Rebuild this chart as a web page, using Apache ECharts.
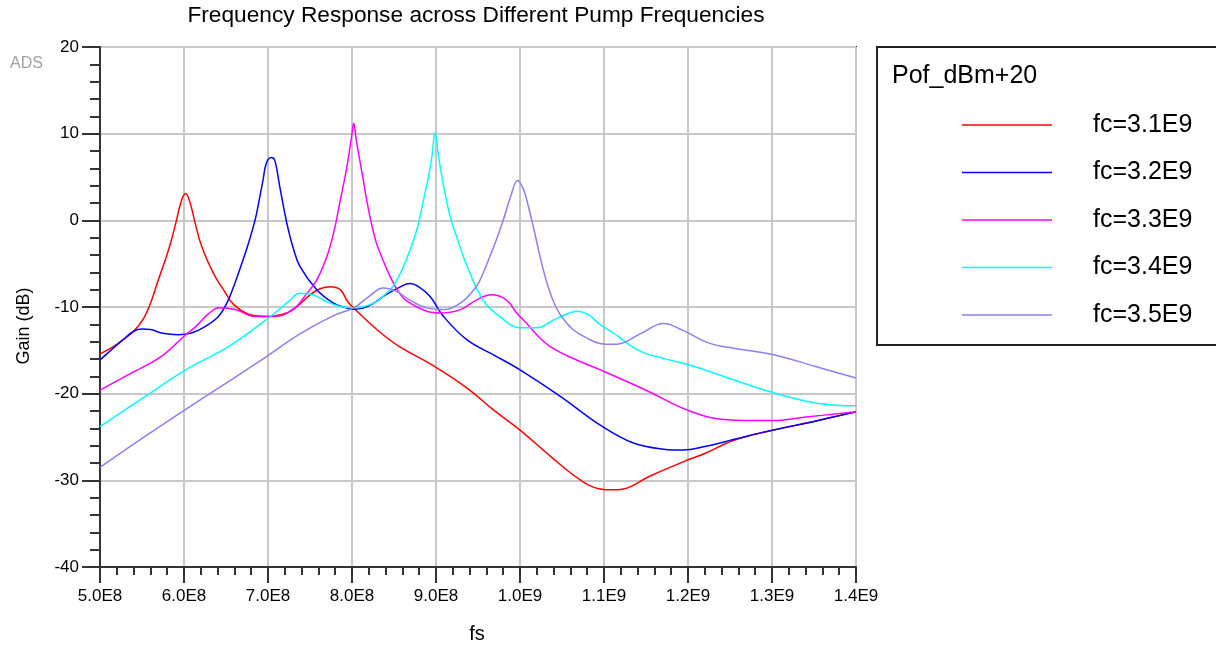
<!DOCTYPE html>
<html><head><meta charset="utf-8">
<script src="https://cdn.jsdelivr.net/npm/echarts@6/dist/echarts.min.js"></script>
<style>html,body{margin:0;padding:0;background:#fff}#c{width:1216px;height:647px}</style>
</head><body><div id="c"></div>
<script>
// ---- data (fs in Hz, gain in dB) ----
const seriesNames = ['fc=3.1E9', 'fc=3.2E9', 'fc=3.3E9', 'fc=3.4E9', 'fc=3.5E9'];
const legendTitle = 'Pof_dBm+20';
const chartTitle = 'Frequency Response across Different Pump Frequencies';
const xName = 'fs';
const yName = 'Gain (dB)';

const fs31 = [5.00e8,5.20e8,5.40e8,5.52e8,5.60e8,5.69e8,5.79e8,5.85e8,5.91e8,5.97e8,6.02e8,6.07e8,6.13e8,6.19e8,6.25e8,6.31e8,6.39e8,6.47e8,6.59e8,6.79e8,7.00e8,7.15e8,7.30e8,7.50e8,7.62e8,7.74e8,7.86e8,7.95e8,8.02e8,8.17e8,8.37e8,8.57e8,8.99e8,9.37e8,9.68e8,10.0e8,10.36e8,10.71e8,10.95e8,11.10e8,11.23e8,11.55e8,12.01e8,12.20e8,12.54e8,12.97e8,13.5e8,14.0e8];
const gain31 = [-15.4,-14.3,-12.8,-11.3,-9.6,-7.0,-4.2,-2.3,0.0,2.3,3.1,2.1,-0.2,-2.4,-4.0,-5.3,-6.8,-8.0,-9.7,-10.9,-11.1,-10.9,-10.3,-8.6,-7.9,-7.65,-8.0,-9.4,-10.1,-11.5,-13.2,-14.6,-16.9,-19.35,-21.85,-24.2,-27.2,-29.9,-31.0,-31.1,-31.0,-29.5,-27.6,-26.9,-25.4,-24.3,-23.2,-22.1];

const fs32 = [5.00e8,5.14e8,5.27e8,5.40e8,5.50e8,5.60e8,5.73e8,5.93e8,6.09e8,6.25e8,6.41e8,6.51e8,6.60e8,6.67e8,6.75e8,6.82e8,6.86e8,6.90e8,6.94e8,6.98e8,7.04e8,7.08e8,7.14e8,7.20e8,7.24e8,7.30e8,7.38e8,7.58e8,7.78e8,7.90e8,8.02e8,8.14e8,8.26e8,8.40e8,8.57e8,8.69e8,8.80e8,8.93e8,9.09e8,9.37e8,9.70e8,10.0e8,10.48e8,10.95e8,11.35e8,11.71e8,11.94e8,12.20e8,12.54e8,12.94e8,13.5e8,14.0e8];
const gain32 = [-16.1,-14.9,-13.8,-12.8,-12.55,-12.6,-13.0,-13.2,-13.0,-12.26,-11.1,-9.56,-7.4,-5.5,-3.2,-0.9,0.6,2.6,4.6,6.6,7.26,6.95,3.9,0.8,-1.0,-3.2,-5.3,-8.0,-9.56,-10.0,-10.25,-10.1,-9.56,-8.6,-7.7,-7.3,-7.7,-8.8,-11.1,-13.8,-15.6,-17.25,-20.3,-23.6,-25.7,-26.4,-26.5,-26.1,-25.3,-24.35,-23.2,-22.1];

const fs33 = [5.00e8,5.34e8,5.73e8,6.02e8,6.14e8,6.30e8,6.42e8,6.61e8,6.85e8,7.08e8,7.32e8,7.45e8,7.58e8,7.70e8,7.78e8,7.86e8,7.94e8,8.00e8,8.02e8,8.05e8,8.08e8,8.13e8,8.17e8,8.23e8,8.29e8,8.37e8,8.45e8,8.55e8,8.65e8,8.89e8,9.05e8,9.29e8,9.48e8,9.66e8,9.84e8,9.96e8,10.08e8,10.24e8,10.36e8,10.6e8,10.99e8,11.5e8,12.02e8,12.46e8,13.0e8,13.4e8,14.0e8];
const gain33 = [-19.6,-17.8,-15.7,-13.2,-12.26,-10.7,-10.1,-10.3,-11.1,-11.1,-10.1,-8.6,-6.9,-4.2,-1.5,2.3,6.2,10.0,11.2,9.3,7.6,4.9,2.6,-0.3,-2.6,-4.6,-6.4,-8.2,-9.3,-10.5,-10.7,-10.3,-9.2,-8.6,-9.2,-10.7,-11.9,-13.6,-14.56,-15.8,-17.4,-19.6,-22.0,-23.0,-23.1,-22.7,-22.1];

const fs34 = [5.00e8,5.54e8,6.02e8,6.53e8,6.92e8,7.08e8,7.24e8,7.38e8,7.54e8,7.70e8,7.86e8,8.02e8,8.26e8,8.40e8,8.49e8,8.60e8,8.69e8,8.78e8,8.85e8,8.91e8,8.95e8,8.99e8,9.02e8,9.05e8,9.10e8,9.17e8,9.27e8,9.37e8,9.56e8,9.76e8,10.0e8,10.20e8,10.40e8,10.56e8,10.67e8,10.80e8,10.95e8,11.11e8,11.43e8,11.70e8,12.02e8,12.54e8,13.02e8,13.53e8,14.0e8];
const gain34 = [-23.8,-20.3,-17.25,-14.56,-11.9,-10.7,-9.4,-8.4,-8.6,-9.4,-9.95,-10.1,-9.56,-8.5,-7.6,-5.6,-3.45,-0.8,2.3,5.0,7.3,10.1,8.1,6.2,3.5,0.4,-2.6,-5.3,-9.2,-11.1,-12.4,-12.4,-11.5,-10.8,-10.5,-10.8,-12.0,-13.0,-15.1,-15.9,-16.7,-18.4,-19.9,-21.1,-21.4];

const fs35 = [5.00e8,5.54e8,6.02e8,6.53e8,7.00e8,7.38e8,7.78e8,8.02e8,8.20e8,8.37e8,8.53e8,8.69e8,8.89e8,9.09e8,9.29e8,9.48e8,9.56e8,9.64e8,9.72e8,9.80e8,9.90e8,9.97e8,10.04e8,10.10e8,10.16e8,10.22e8,10.28e8,10.34e8,10.40e8,10.48e8,10.63e8,10.80e8,10.95e8,11.15e8,11.43e8,11.71e8,11.94e8,12.26e8,12.54e8,13.02e8,13.53e8,14.0e8];
const gain35 = [-28.5,-24.9,-21.8,-18.6,-15.6,-13.1,-11.0,-10.1,-8.8,-7.8,-8.2,-9.2,-10.1,-10.3,-9.56,-7.65,-6.1,-4.2,-2.2,0.0,3.1,4.6,3.6,1.6,-0.8,-3.4,-5.8,-7.8,-9.4,-10.9,-12.6,-13.6,-14.2,-14.3,-13.1,-11.9,-12.7,-14.2,-14.75,-15.5,-16.9,-18.2];

const allFs = [fs31, fs32, fs33, fs34, fs35];
const allGain = [gain31, gain32, gain33, gain34, gain35];

// ---- styles ----
const colors = ['#ff0000', '#0000ff', '#ff00ff', '#00ffff', '#8a80f0'];
const FONT = '"Liberation Sans", Arial, Helvetica, sans-serif';
const axisDark = '#333333';

const chart = echarts.init(document.getElementById('c'), null, {renderer: 'canvas'});

const series = seriesNames.map((name, k) => ({
  name: name,
  type: 'line',
  data: allFs[k].map((f, i) => [f, allGain[k][i]]),
  showSymbol: false,
  symbol: 'none',
  smooth: 0.4,
  lineStyle: {color: colors[k], width: 1.5},
  itemStyle: {color: colors[k]},
  clip: true,
  z: 3
}));

// legend drawn as graphic elements
const legendGraphics = [
  {type: 'rect', shape: {x: 877, y: 47, width: 420, height: 298}, style: {fill: '#fff', stroke: '#222', lineWidth: 2}, z: 10},
  {type: 'text', x: 892, y: 76, style: {text: legendTitle, font: '25px ' + FONT, fill: '#000', verticalAlign: 'middle'}, z: 11}
];
seriesNames.forEach((name, k) => {
  const yy = 125 + k * 47.5;
  legendGraphics.push({type: 'line', shape: {x1: 962, y1: yy, x2: 1052, y2: yy}, style: {stroke: colors[k], lineWidth: 1.5}, z: 11});
  legendGraphics.push({type: 'text', x: 1093, y: yy, style: {text: name, font: '25px ' + FONT, fill: '#000', verticalAlign: 'middle'}, z: 11});
});

const option = {
  animation: false,
  backgroundColor: '#ffffff',
  grid: {left: 100, right: 360, top: 47, bottom: 80, show: true, borderColor: axisDark, borderWidth: 2},
  xAxis: {
    type: 'value', min: 5e8, max: 1.4e9, interval: 1e8,
    axisLine: {show: true, onZero: false, lineStyle: {color: axisDark, width: 2}},
    axisTick: {show: true, length: 16, lineStyle: {color: axisDark, width: 2}},
    minorTick: {show: true, splitNumber: 5, length: 8, lineStyle: {color: axisDark, width: 2}},
    splitLine: {show: true, lineStyle: {color: '#c8c8c8', width: 2}},
    axisLabel: {
      margin: 21, fontSize: 17, fontFamily: FONT, color: '#000',
      formatter: v => v.toExponential(1).replace('e+', 'E')
    }
  },
  yAxis: {
    type: 'value', min: -40, max: 20, interval: 10,
    axisLine: {show: true, onZero: false, lineStyle: {color: axisDark, width: 2}},
    axisTick: {show: true, length: 18, lineStyle: {color: axisDark, width: 2}},
    minorTick: {show: true, splitNumber: 5, length: 10, lineStyle: {color: axisDark, width: 2}},
    splitLine: {show: true, lineStyle: {color: '#c8c8c8', width: 2}},
    axisLabel: {margin: 21, fontSize: 17, fontFamily: FONT, color: '#000'}
  },
  series: series,
  graphic: [
    {type: 'text', x: 476, y: 16, style: {text: chartTitle, font: '22.7px ' + FONT, fill: '#000', align: 'center', verticalAlign: 'middle'}},
    {type: 'text', x: 10, y: 64, style: {text: 'ADS', font: '16px ' + FONT, fill: '#a0a0a0', verticalAlign: 'middle'}},
    {type: 'text', x: 24, y: 326, rotation: Math.PI / 2, style: {text: yName, font: '18px ' + FONT, fill: '#000', align: 'center', verticalAlign: 'middle'}},
    {type: 'text', x: 477, y: 634, style: {text: xName, font: '20px ' + FONT, fill: '#000', align: 'center', verticalAlign: 'middle'}}
  ].concat(legendGraphics)
};
chart.setOption(option);
</script>
</body></html>
